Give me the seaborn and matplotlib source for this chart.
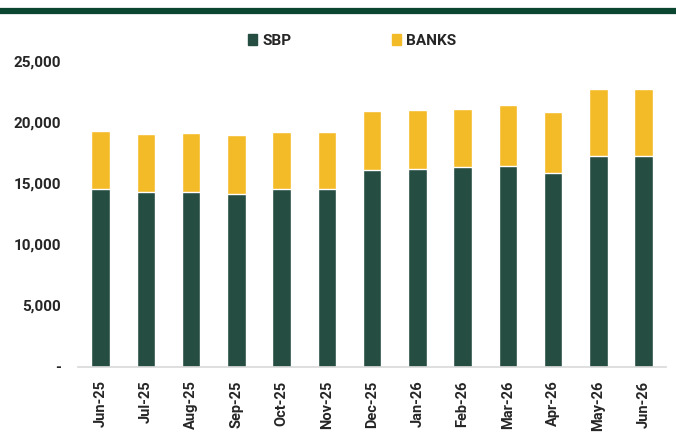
import numpy as np
import pandas as pd
import seaborn as sns
import matplotlib.pyplot as plt
from matplotlib.lines import Line2D
from matplotlib.ticker import FuncFormatter

# Dados
meses = ['Jun-25', 'Jul-25', 'Aug-25', 'Sep-25', 'Oct-25', 'Nov-25', 'Dec-25',
         'Jan-26', 'Feb-26', 'Mar-26', 'Apr-26', 'May-26', 'Jun-26']
sbp = [14500, 14300, 14300, 14150, 14500, 14550, 16050,
       16180, 16300, 16400, 15850, 17200, 17250]
banks = [4800, 4700, 4800, 4780, 4710, 4600, 4830,
         4840, 4800, 4970, 4970, 5480, 5450]

cor_sbp = '#264d42'
cor_banks = '#f4bb29'

df = pd.DataFrame({'Mes': meses, 'SBP': sbp, 'BANKS': banks})
df['Total'] = df['SBP'] + df['BANKS']

sns.set_style('white')
plt.rcParams['font.family'] = ['Roboto', 'DejaVu Sans']

fig = plt.figure(figsize=(6.76, 4.38), dpi=100)
ax = fig.add_axes([0.1154, 0.163, 0.87, 0.698])

# barras empilhadas: total em amarelo, SBP por cima
sns.barplot(data=df, x='Mes', y='Total', color=cor_banks, width=0.41,
            saturation=1, ax=ax)
sns.barplot(data=df, x='Mes', y='SBP', color=cor_sbp, width=0.41,
            saturation=1, ax=ax)

ax.set_ylim(0, 25000)
ax.set_xlim(-0.5, len(meses) - 0.5)
ax.set_yticks(range(0, 25001, 5000))
ax.yaxis.set_major_formatter(FuncFormatter(lambda v, p: '-' if v == 0 else f'{v:,.0f}'))
ax.set_xlabel('')
ax.set_ylabel('')
for s in ['top', 'right', 'left']:
    ax.spines[s].set_visible(False)
ax.spines['bottom'].set_color('#d9d9d9')
ax.spines['bottom'].set_linewidth(1.2)
ax.tick_params(axis='both', length=0)
ax.tick_params(axis='y', labelsize=11, pad=12)
ax.tick_params(axis='x', labelsize=10.5, pad=10)
plt.setp(ax.get_xticklabels(), rotation=90, fontweight='bold')
plt.setp(ax.get_yticklabels(), fontweight='bold')

# legenda
handles = [plt.Rectangle((0, 0), 1, 1, color=cor_sbp),
           plt.Rectangle((0, 0), 1, 1, color=cor_banks)]
fig.legend(handles, ['SBP', 'BANKS'], loc='center', bbox_to_anchor=(0.521, 0.906),
           ncol=2, frameon=False, handlelength=0.55, handleheight=0.7,
           handletextpad=0.35, columnspacing=6.6, prop={'weight': 'bold', 'size': 11})

# linha verde no topo
fig.add_artist(Line2D([0, 1], [0.976, 0.976], color='#0b4631', linewidth=4.5,
                      transform=fig.transFigure))

plt.savefig('out.png', dpi=100)
